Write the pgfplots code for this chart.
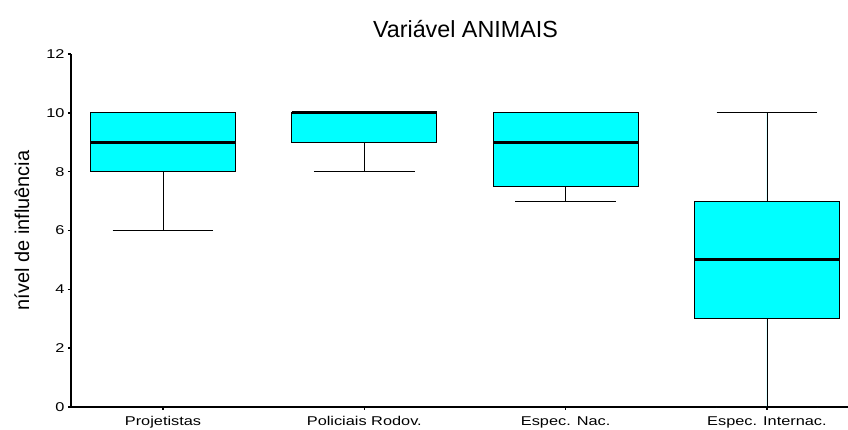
\documentclass[border=0pt]{standalone}
\usepackage{fontspec}
\setmainfont{Liberation Sans}
\newfontfamily\tickfont{Liberation Sans}[FakeStretch=1.28]
\usepackage{pgfplots}
\pgfplotsset{compat=1.18}
\usepgfplotslibrary{statistics}
\definecolor{aqua}{RGB}{0,255,255}
\begin{document}
\begin{tikzpicture}
\useasboundingbox (0,0) rectangle (848bp,430bp);
\begin{axis}[
 at={(71bp,23bp)}, anchor=south west,
 scale only axis, width=776.5bp, height=353bp,
 xmin=0.543, xmax=4.4, ymin=0, ymax=12,
 axis x line=bottom, axis y line=left,
 axis line style={-, line width=1.1bp, black},
 xtick={1,2,3,4},
 xticklabels={Projetistas, Policiais Rodov., Espec. Nac., Espec. Internac.},
 ytick={0,2,...,12},
 tick align=outside, major tick length=3bp,
 tick style={line width=1.6bp, black},
 /pgf/number format/assume math mode=true,
 ticklabel style={font=\tickfont\fontsize{12.8}{14}\selectfont},
 xticklabel style={yshift=-3bp},
 ylabel={nível de influência},
 ylabel style={font=\fontsize{20}{24}\selectfont, at={(axis description cs:-0.0631,0.5)}, anchor=center},
 title={Variável ANIMAIS},
 title style={font=\fontsize{23.4}{26}\selectfont, at={(axis description cs:0.508,1.0312)}, anchor=base},
 boxplot/draw direction=y,
 boxplot/box extend=0.72,
 boxplot/whisker extend=0.5,
 boxplot/every median/.style={line width=3bp},
 clip=false,
]
\addplot[boxplot prepared={draw position=1, lower whisker=6, lower quartile=8, median=9, upper quartile=10, upper whisker=10}, draw=black, fill=aqua, line width=0.9bp] coordinates {};
\addplot[boxplot prepared={draw position=2, lower whisker=8, lower quartile=9, median=10, upper quartile=10, upper whisker=10}, draw=black, fill=aqua, line width=0.9bp] coordinates {};
\addplot[boxplot prepared={draw position=3, lower whisker=7, lower quartile=7.5, median=9, upper quartile=10, upper whisker=10}, draw=black, fill=aqua, line width=0.9bp] coordinates {};
\addplot[boxplot prepared={draw position=4, lower whisker=0, lower quartile=3, median=5, upper quartile=7, upper whisker=10}, draw=black, fill=aqua, line width=0.9bp] coordinates {};
\end{axis}
\end{tikzpicture}
\end{document}
